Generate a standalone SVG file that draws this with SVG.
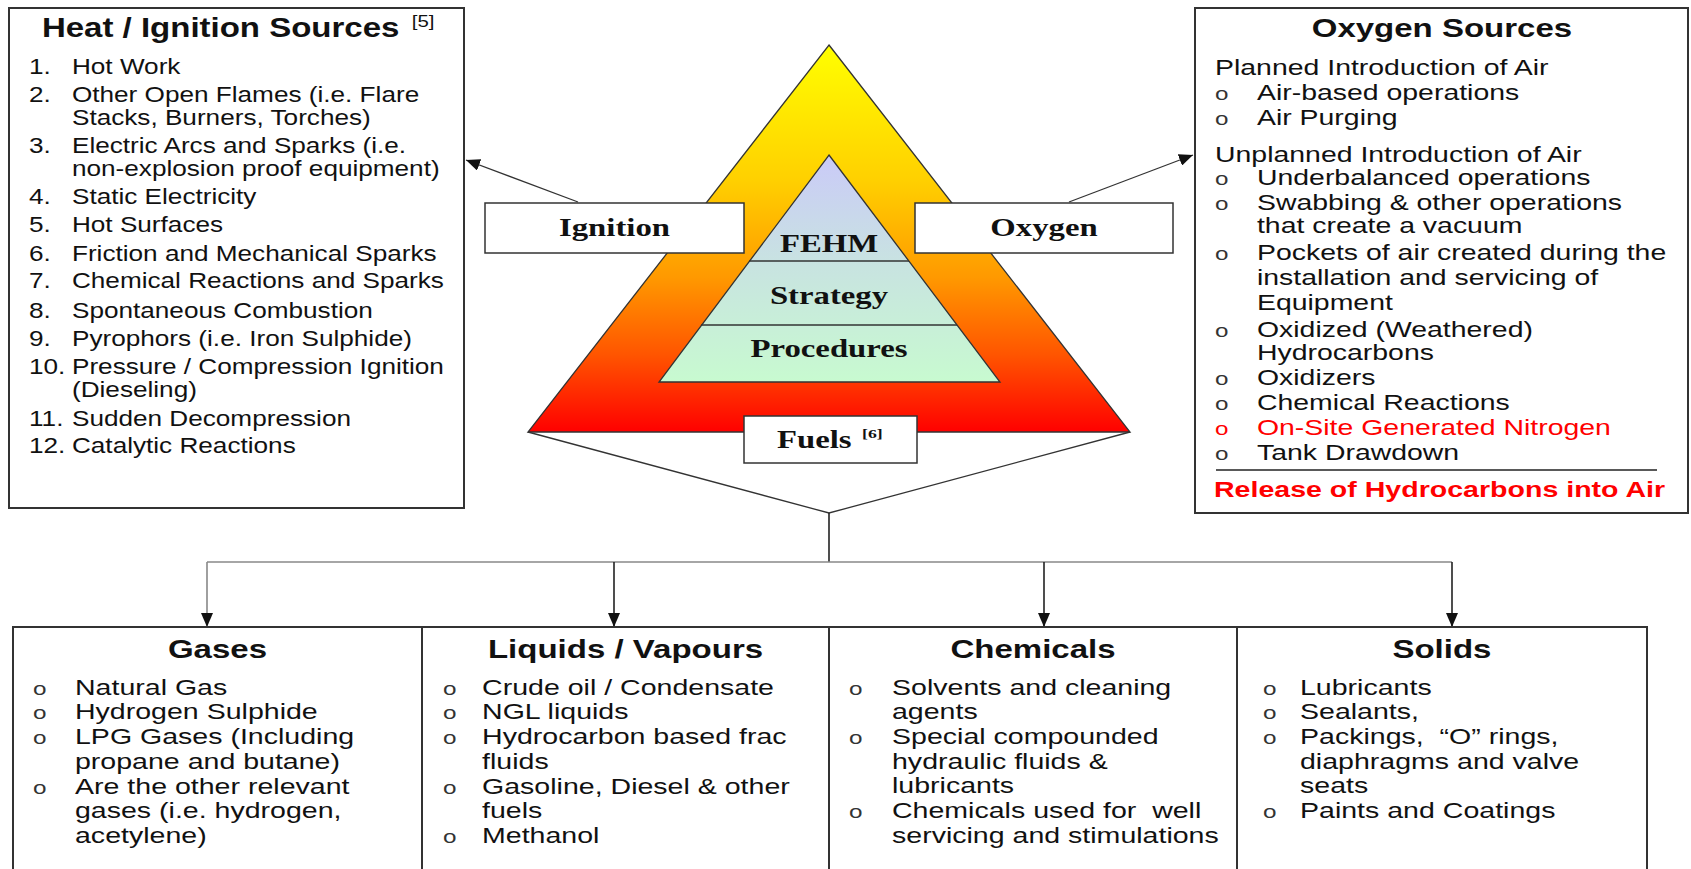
<svg xmlns="http://www.w3.org/2000/svg" width="1691" height="869" viewBox="0 0 1691 869">
<style>
.box{fill:#fff;stroke:#333;stroke-width:2}
.lbl{fill:#fff;stroke:#333;stroke-width:1.5}
.t{font-family:"Liberation Sans",Arial,sans-serif;font-size:21.8px;fill:#111}
.tb{font-family:"Liberation Sans",Arial,sans-serif;font-weight:bold;fill:#111}
.bt{font-family:"Liberation Sans",Arial,sans-serif;font-size:22.3px;fill:#111}
.bu{font-family:"Liberation Sans",Arial,sans-serif;font-size:19px;fill:#333}
.tr{font-family:"Liberation Serif","Times New Roman",serif;font-weight:bold;font-size:25px;fill:#111;text-anchor:middle}
.red{fill:#ff0000}
.c{text-anchor:middle}
.ln{stroke:#333;stroke-width:1.3;fill:none}
.gl{stroke:#888;stroke-width:1.6;fill:none}
.dk{stroke:#222;stroke-width:1.6;fill:none}
</style>
<defs>
<linearGradient id="fire" gradientUnits="userSpaceOnUse" x1="0" y1="45" x2="0" y2="432">
<stop offset="0" stop-color="#ffff00"/>
<stop offset="0.35" stop-color="#ffd000"/>
<stop offset="0.6" stop-color="#ff9900"/>
<stop offset="0.8" stop-color="#ff5500"/>
<stop offset="1" stop-color="#ff0000"/>
</linearGradient>
<linearGradient id="inner" gradientUnits="userSpaceOnUse" x1="0" y1="155" x2="0" y2="382">
<stop offset="0" stop-color="#cacaf8"/>
<stop offset="0.5" stop-color="#c8e4e0"/>
<stop offset="1" stop-color="#c8fad0"/>
</linearGradient>
<marker id="ah" viewBox="0 0 14 12" refX="14" refY="6" markerWidth="14" markerHeight="12" markerUnits="userSpaceOnUse" orient="auto">
<path d="M0,0 L14,6 L0,12 z" fill="#111"/>
</marker>
</defs>
<rect width="1691" height="869" fill="#fff"/>

<g id="fire-triangle">
<polygon points="829,45 1130,432 528,432" fill="url(#fire)" stroke="#333" stroke-width="1.3"/>
<polygon points="829,155 1000,382 659,382" fill="url(#inner)" stroke="#333" stroke-width="1.3"/>
<line x1="749" y1="261" x2="909" y2="261" stroke="#333" stroke-width="1.3"/>
<line x1="701" y1="325" x2="957" y2="325" stroke="#333" stroke-width="1.3"/>
<text class="tr" transform="translate(829,252) scale(1.31,1)">FEHM</text>
<text class="tr" transform="translate(829,304) scale(1.31,1)">Strategy</text>
<text class="tr" transform="translate(829,357) scale(1.31,1)">Procedures</text>
</g>

<g id="connectors">
<line class="ln" x1="578" y1="202" x2="466" y2="160" marker-end="url(#ah)"/>
<line class="ln" x1="1069" y1="202" x2="1193" y2="155" marker-end="url(#ah)"/>
<polyline class="ln" points="528,432 829,513 1130,432"/>
<line class="dk" x1="829" y1="513" x2="829" y2="562"/>
<line class="gl" x1="207" y1="562" x2="1452" y2="562"/>
<line class="gl" x1="207" y1="562" x2="207" y2="627" marker-end="url(#ah)"/>
<line class="dk" x1="614" y1="562" x2="614" y2="627" marker-end="url(#ah)"/>
<line class="dk" x1="1044" y1="562" x2="1044" y2="627" marker-end="url(#ah)"/>
<line class="dk" x1="1452" y1="562" x2="1452" y2="627" marker-end="url(#ah)"/>
</g>

<g id="ignition-label">
<rect class="lbl" x="485" y="203" width="259" height="50"/>
<text class="tr" transform="translate(614.5,236) scale(1.31,1)">Ignition</text>
</g>
<g id="oxygen-label">
<rect class="lbl" x="915" y="203" width="258" height="50"/>
<text class="tr" transform="translate(1044,236) scale(1.31,1)">Oxygen</text>
</g>
<g id="fuels-label">
<rect class="lbl" x="744" y="416" width="173" height="47"/>
<text class="tr" style="text-anchor:start" transform="translate(777,448) scale(1.31,1)">Fuels</text>
<text class="tr" style="text-anchor:start;font-size:13.5px" transform="translate(862,438) scale(1.31,1)">[6]</text>
</g>

<g id="heat-ignition-sources">
<rect class="box" x="9" y="8" width="455" height="500"/>
<g transform="translate(29,0) scale(1.2,1)">
<text class="tb" x="10.8" y="37" font-size="27.5">Heat / Ignition Sources</text>
<text class="t" x="319" y="27" style="font-size:17px">[5]</text>
<text class="t" x="0" y="74">1.</text><text class="t" x="35.8" y="74">Hot Work</text>
<text class="t" x="0" y="102">2.</text><text class="t" x="35.8" y="102">Other Open Flames (i.e. Flare</text>
<text class="t" x="35.8" y="125">Stacks, Burners, Torches)</text>
<text class="t" x="0" y="153">3.</text><text class="t" x="35.8" y="153">Electric Arcs and Sparks (i.e.</text>
<text class="t" x="35.8" y="176">non-explosion proof equipment)</text>
<text class="t" x="0" y="204">4.</text><text class="t" x="35.8" y="204">Static Electricity</text>
<text class="t" x="0" y="232">5.</text><text class="t" x="35.8" y="232">Hot Surfaces</text>
<text class="t" x="0" y="261">6.</text><text class="t" x="35.8" y="261">Friction and Mechanical Sparks</text>
<text class="t" x="0" y="288">7.</text><text class="t" x="35.8" y="288">Chemical Reactions and Sparks</text>
<text class="t" x="0" y="318">8.</text><text class="t" x="35.8" y="318">Spontaneous Combustion</text>
<text class="t" x="0" y="346">9.</text><text class="t" x="35.8" y="346">Pyrophors (i.e. Iron Sulphide)</text>
<text class="t" x="0" y="374">10.</text><text class="t" x="35.8" y="374">Pressure / Compression Ignition</text>
<text class="t" x="35.8" y="397">(Dieseling)</text>
<text class="t" x="0" y="426">11.</text><text class="t" x="35.8" y="426">Sudden Decompression</text>
<text class="t" x="0" y="453">12.</text><text class="t" x="35.8" y="453">Catalytic Reactions</text>
</g>
</g>

<g id="oxygen-sources">
<rect class="box" x="1195" y="8" width="493" height="505"/>
<line x1="1216" y1="470" x2="1657" y2="470" stroke="#222" stroke-width="1.5"/>
<g transform="translate(1215,0) scale(1.275,1)">
<text class="tb c" x="178" y="37" font-size="25.9">Oxygen Sources</text>
<text class="bt" x="0" y="75">Planned Introduction of Air</text>
<text class="bu" x="0" y="100">o</text><text class="bt" x="32.9" y="100">Air-based operations</text>
<text class="bu" x="0" y="125">o</text><text class="bt" x="32.9" y="125">Air Purging</text>
<text class="bt" x="0" y="162">Unplanned Introduction of Air</text>
<text class="bu" x="0" y="185">o</text><text class="bt" x="32.9" y="185">Underbalanced operations</text>
<text class="bu" x="0" y="210">o</text><text class="bt" x="32.9" y="210">Swabbing &amp; other operations</text>
<text class="bt" x="32.9" y="233">that create a vacuum</text>
<text class="bu" x="0" y="260">o</text><text class="bt" x="32.9" y="260">Pockets of air created during the</text>
<text class="bt" x="32.9" y="285">installation and servicing of</text>
<text class="bt" x="32.9" y="310">Equipment</text>
<text class="bu" x="0" y="337">o</text><text class="bt" x="32.9" y="337">Oxidized (Weathered)</text>
<text class="bt" x="32.9" y="360">Hydrocarbons</text>
<text class="bu" x="0" y="385">o</text><text class="bt" x="32.9" y="385">Oxidizers</text>
<text class="bu" x="0" y="410">o</text><text class="bt" x="32.9" y="410">Chemical Reactions</text>
<text class="bu red" x="0" y="435">o</text><text class="bt red" x="32.9" y="435">On-Site Generated Nitrogen</text>
<text class="bu" x="0" y="460">o</text><text class="bt" x="32.9" y="460">Tank Drawdown</text>
<text class="tb red" x="-0.8" y="497" font-size="22.4">Release of Hydrocarbons into Air</text>
</g>
</g>

<g id="gases">
<rect class="box" x="13" y="627" width="409" height="260"/>
<g transform="translate(33,0) scale(1.28,1)">
<text class="tb c" x="144.1" y="658" font-size="25.8">Gases</text>
<text class="bu" x="0" y="695">o</text><text class="bt" x="32.8" y="695">Natural Gas</text>
<text class="bu" x="0" y="719">o</text><text class="bt" x="32.8" y="719">Hydrogen Sulphide</text>
<text class="bu" x="0" y="744">o</text><text class="bt" x="32.8" y="744">LPG Gases (Including</text>
<text class="bt" x="32.8" y="769">propane and butane)</text>
<text class="bu" x="0" y="794">o</text><text class="bt" x="32.8" y="794">Are the other relevant</text>
<text class="bt" x="32.8" y="818">gases (i.e. hydrogen,</text>
<text class="bt" x="32.8" y="843">acetylene)</text>
</g>
</g>

<g id="liquids-vapours">
<rect class="box" x="422" y="627" width="407" height="260"/>
<g transform="translate(443,0) scale(1.28,1)">
<text class="tb c" x="142.6" y="658" font-size="25.8">Liquids / Vapours</text>
<text class="bu" x="0" y="695">o</text><text class="bt" x="30.5" y="695">Crude oil / Condensate</text>
<text class="bu" x="0" y="719">o</text><text class="bt" x="30.5" y="719">NGL liquids</text>
<text class="bu" x="0" y="744">o</text><text class="bt" x="30.5" y="744">Hydrocarbon based frac</text>
<text class="bt" x="30.5" y="769">fluids</text>
<text class="bu" x="0" y="794">o</text><text class="bt" x="30.5" y="794">Gasoline, Diesel &amp; other</text>
<text class="bt" x="30.5" y="818">fuels</text>
<text class="bu" x="0" y="843">o</text><text class="bt" x="30.5" y="843">Methanol</text>
</g>
</g>

<g id="chemicals">
<rect class="box" x="829" y="627" width="408" height="260"/>
<g transform="translate(849,0) scale(1.28,1)">
<text class="tb c" x="143.75" y="658" font-size="25.8">Chemicals</text>
<text class="bu" x="0" y="695">o</text><text class="bt" x="33.6" y="695">Solvents and cleaning</text>
<text class="bt" x="33.6" y="719">agents</text>
<text class="bu" x="0" y="744">o</text><text class="bt" x="33.6" y="744">Special compounded</text>
<text class="bt" x="33.6" y="769">hydraulic fluids &amp;</text>
<text class="bt" x="33.6" y="793">lubricants</text>
<text class="bu" x="0" y="818">o</text><text class="bt" x="33.6" y="818" xml:space="preserve">Chemicals used for  well</text>
<text class="bt" x="33.6" y="843">servicing and stimulations</text>
</g>
</g>

<g id="solids">
<rect class="box" x="1237" y="627" width="410" height="260"/>
<g transform="translate(1263,0) scale(1.28,1)">
<text class="tb c" x="139.8" y="658" font-size="25.8">Solids</text>
<text class="bu" x="0" y="695">o</text><text class="bt" x="28.9" y="695">Lubricants</text>
<text class="bu" x="0" y="719">o</text><text class="bt" x="28.9" y="719">Sealants,</text>
<text class="bu" x="0" y="744">o</text><text class="bt" x="28.9" y="744" xml:space="preserve">Packings,  “O” rings,</text>
<text class="bt" x="28.9" y="769">diaphragms and valve</text>
<text class="bt" x="28.9" y="793">seats</text>
<text class="bu" x="0" y="818">o</text><text class="bt" x="28.9" y="818">Paints and Coatings</text>
</g>
</g>
</svg>
